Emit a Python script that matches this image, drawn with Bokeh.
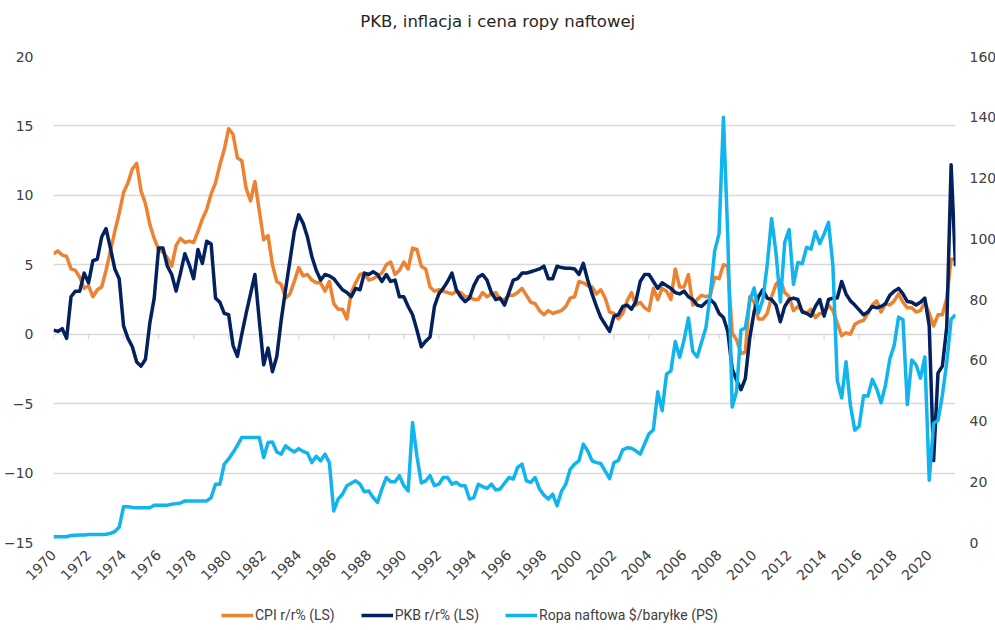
from math import pi, nan
from bokeh.plotting import figure
from bokeh.layouts import column
from bokeh.models import Range1d, LinearAxis, FixedTicker, Legend, LegendItem
from bokeh.core.properties import value
from bokeh.embed import file_html
from bokeh.resources import INLINE

# ---- data (quarterly, 1970Q1 .. 2021Q3) ----
cpi = [
    5.8, 6.0, 5.7, 5.6,   4.7, 4.6, 4.1, 3.3,   3.5, 2.7, 3.2, 3.4,   4.6, 6.0, 7.4, 8.7,
    10.2, 10.9, 11.9, 12.3,  10.3, 9.4, 7.9, 6.9,  6.1, 5.9, 5.5, 4.9,  6.4, 6.9, 6.6, 6.7,
    6.6, 7.4, 8.3, 9.0,   10.1, 10.9, 12.2, 13.3,  14.8, 14.4, 12.7, 12.5,  10.5, 9.6, 11.0, 8.9,
    6.8, 7.1, 5.0, 3.8,   3.6, 2.6, 2.9, 3.8,   4.8, 4.2, 4.3, 3.9,   3.7, 3.7, 3.1, 3.8,
    2.2, 1.8, 1.8, 1.1,   3.0, 3.7, 4.3, 4.4,   3.9, 4.0, 4.2, 4.4,   5.0, 5.2, 4.3, 4.6,
    5.2, 4.7, 6.2, 6.1,   4.9, 4.7, 3.4, 3.1,   3.2, 3.1, 3.0, 2.9,   3.1, 3.0, 2.7, 2.7,
    2.5, 2.5, 3.0, 2.7,   2.9, 3.0, 2.5, 2.5,   2.8, 2.8, 3.0, 3.3,   2.8, 2.3, 2.2, 1.7,
    1.4, 1.7, 1.5, 1.6,   1.7, 2.0, 2.6, 2.7,   3.8, 3.7, 3.5, 3.4,   2.9, 3.2, 2.6, 1.6,
    1.5, 1.1, 1.5, 2.4,   3.0, 2.1, 2.3, 1.9,   1.7, 3.3, 2.5, 3.3,   3.1, 2.5, 4.7, 3.4,
    3.4, 4.3, 2.1, 2.5,   2.8, 2.7, 2.8, 4.1,   4.0, 5.0, 4.9, 0.1,   -0.4, -1.4, -1.3, 2.7,
    2.3, 1.1, 1.1, 1.5,   2.7, 3.6, 3.9, 3.0,   2.7, 1.7, 2.0, 1.7,   1.5, 1.8, 1.2, 1.5,
    1.5, 2.1, 1.7, 0.8,   -0.1, 0.1, 0.0, 0.7,  0.9, 1.0, 1.5, 2.1,   2.4, 1.6, 2.2, 2.1,
    2.4, 2.9, 2.3, 1.9,   1.9, 1.6, 1.7, 2.3,   1.5, 0.6, 1.4, 1.4,   2.6, 5.4, 5.4,
]

pkb = [
    0.3, 0.2, 0.4, -0.3,  2.7, 3.1, 3.1, 4.4,   3.7, 5.3, 5.4, 7.0,   7.6, 6.2, 4.7, 4.0,
    0.6, -0.3, -0.9, -2.0,  -2.3, -1.8, 0.8, 2.6,  6.2, 6.2, 4.9, 4.3,  3.1, 4.4, 5.8, 5.0,
    4.0, 6.1, 5.1, 6.7,   6.5, 2.6, 2.3, 1.5,   1.4, -0.8, -1.6, 0.0,  1.5, 2.9, 4.3, 1.0,
    -2.2, -1.0, -2.7, -1.6,  1.0, 3.2, 5.3, 7.4,  8.6, 8.0, 7.0, 5.6,  4.6, 3.9, 4.3, 4.2,
    4.0, 3.6, 3.2, 3.0,   2.7, 3.3, 3.2, 4.4,   4.3, 4.5, 4.3, 3.8,   4.3, 3.8, 3.9, 2.7,
    2.7, 2.0, 1.4, 0.3,   -0.9, -0.5, -0.2, 2.0,  2.9, 3.3, 3.8, 4.4,  3.2, 2.7, 2.35, 2.6,
    3.5, 4.1, 4.3, 3.9,   3.0, 2.5, 2.6, 2.1,   3.0, 3.9, 4.0, 4.4,   4.4, 4.5, 4.6, 4.7,
    4.9, 4.0, 4.0, 4.9,   4.8, 4.75, 4.75, 4.7,  4.3, 5.1, 3.9, 2.9,  2.0, 1.2, 0.7, 0.2,
    1.3, 1.4, 2.0, 2.1,   1.8, 2.35, 3.8, 4.3,  4.3, 3.8, 3.3, 3.7,   3.5, 3.3, 3.0, 2.9,
    3.1, 2.7, 2.5, 2.1,   2.0, 2.3, 2.5, 2.2,   1.5, 1.2, 0.2, -2.5,  -3.3, -4.0, -3.2, -0.3,
    1.6, 2.7, 3.2, 2.6,   2.5, 2.1, 0.9, 2.0,   2.5, 2.6, 2.5, 1.6,   1.5, 1.3, 2.0, 2.5,
    1.3, 2.5, 2.6, 2.6,   3.8, 2.9, 2.4, 2.1,   1.75, 1.4, 1.6, 2.0,  1.9, 2.0, 2.2, 2.8,
    3.1, 3.3, 2.9, 2.35,  2.3, 2.1, 2.3, 2.6,   0.6, -9.1, -2.8, -2.3,  0.5, 12.2, 4.9,
]

ropa = [
    1.9, 1.9, 1.9, 1.9,   2.3, 2.4, 2.5, 2.5,   2.6, 2.6, 2.6, 2.6,   2.7, 3.0, 3.6, 5.0,
    11.8, 11.8, 11.5, 11.4,  11.4, 11.4, 11.4, 12.3,  12.3, 12.3, 12.3, 12.6,  12.8, 13.0, 13.7, 13.7,
    13.7, 13.7, 13.7, 13.7,  14.8, 19.2, 19.2, 25.8,  27.5, 29.6, 32.0, 34.6,  34.6, 34.6, 34.6, 34.6,
    28.0, 32.9, 33.1, 29.8,  29.1, 31.8, 30.7, 29.8,  30.9, 30.0, 29.4, 26.3,  28.4, 26.9, 29.1, 26.3,
    10.4, 14.3, 15.9, 18.7,  19.5, 20.3, 19.2, 16.7,  17.0, 14.8, 13.2, 17.6,  21.4, 20.0, 20.0, 22.0,
    18.7, 17.0, 39.5, 28.4,  19.6, 20.3, 22.0, 18.7,  19.2, 21.4, 21.4, 19.2,  19.8, 18.7, 18.7, 14.3,
    14.8, 19.2, 18.4, 17.8,  19.2, 17.3, 17.6, 19.5,  21.4, 20.9, 24.7, 25.8,  20.3, 19.8, 21.4, 17.6,
    15.6, 14.3, 15.9, 12.1,  16.8, 19.2, 24.1, 25.8,  26.9, 32.4, 30.2, 26.9,  26.3, 26.0, 23.5, 21.0,
    26.3, 27.0, 30.5, 31.2,  31.0, 30.2, 29.1, 32.5,  35.8, 37.1, 49.6, 43.4,  55.4, 56.5, 66.2, 61.0,
    66.6, 73.9, 62.9, 61.1,  65.9, 70.7, 81.7, 96.0,  101.6, 140.0, 100.6, 44.6,  49.7, 69.9, 70.6, 79.4,
    83.8, 75.6, 80.0, 91.4,  106.7, 95.4, 79.2, 98.8,  103.0, 85.0, 92.2, 91.8,  97.2, 96.6, 102.3, 98.4,
    101.6, 105.4, 91.2, 53.3,  47.6, 59.5, 45.1, 37.0,  38.3, 48.3, 48.2, 53.7,  50.6, 46.0, 51.7, 60.4,
    64.9, 74.2, 73.3, 45.4,  60.1, 58.5, 54.1, 61.1,  20.5, 39.3, 40.2, 48.5,  59.2, 73.5, 75.0,
]

first_year = 1970
dates = [first_year + i / 4 for i in range(len(cpi))]
year_ticks = list(range(1970, 2021, 2))
left_ticks = [-15, -10, -5, 0, 5, 10, 15, 20]
right_ticks = [0, 20, 40, 60, 80, 100, 120, 140, 160]

title = "PKB, inflacja i cena ropy naftowej"
labels = ["CPI r/r% (LS)", "PKB r/r% (LS)", "Ropa naftowa $/baryłke (PS)"]

ORANGE = "#EE8233"
NAVY = "#03215F"
BLUE = "#12B4EE"
COLORS = [ORANGE, NAVY, BLUE]
GRID = "#D9D9D9"
TXT = "#404040"
FONT = "DejaVu Sans"
W = 979


def strip(height):
    f = figure(width=W, height=height, output_backend="svg", toolbar_location=None,
               x_range=Range1d(0, 1), y_range=Range1d(0, 1),
               min_border=0, min_border_left=0, min_border_right=0,
               min_border_top=0, min_border_bottom=0)
    f.axis.visible = False
    f.grid.visible = False
    f.outline_line_color = None
    return f


# ---- title strip ----
tf = strip(30)
tf.text(x=[0.5036], y=[0.3], text=[title], text_align="center",
        text_baseline="middle", text_font=value(FONT), text_font_size="16.5px",
        text_color="#262626")

# ---- main chart ----
p = figure(frame_width=902, frame_height=486, output_backend="svg",
           toolbar_location=None,
           x_range=Range1d(1970, 2021.5), y_range=Range1d(-15, 20),
           min_border_left=41, min_border_right=36, min_border_top=26,
           min_border_bottom=52)
p.extra_y_ranges = {"oil": Range1d(0, 160)}
p.outline_line_color = None
p.background_fill_color = "white"

p.xgrid.grid_line_color = None
p.ygrid.ticker = FixedTicker(ticks=left_ticks)
p.ygrid.grid_line_color = GRID
p.ygrid.grid_line_width = 1.3

yax = p.yaxis[0]
yax.ticker = FixedTicker(ticks=left_ticks)
yax.axis_line_color = None
yax.major_tick_line_color = None
yax.minor_tick_line_color = None
yax.major_label_standoff = 14
yax.major_label_text_font = FONT
yax.major_label_text_font_size = "14px"
yax.major_label_text_color = TXT

rax = LinearAxis(y_range_name="oil", ticker=FixedTicker(ticks=right_ticks))
rax.axis_line_color = None
rax.major_tick_line_color = None
rax.minor_tick_line_color = None
rax.major_label_standoff = 8
rax.major_label_text_font = FONT
rax.major_label_text_font_size = "14px"
rax.major_label_text_color = TXT
p.add_layout(rax, "right")

xax = p.xaxis[0]
xax.ticker = FixedTicker(ticks=year_ticks)
xax.major_label_overrides = {y: str(y) for y in year_ticks}
xax.axis_line_color = None
xax.major_tick_line_color = None
xax.minor_tick_line_color = None
xax.major_tick_in = 0
xax.major_tick_out = 0
xax.major_label_orientation = pi / 4
xax.major_label_standoff = 10
xax.major_label_text_font = FONT
xax.major_label_text_font_size = "14px"
xax.major_label_text_color = TXT

# small category tick marks hanging from the zero line (~5 px long)
tick_drop = 5 * 35 / 486
p.segment(x0=year_ticks, y0=[0] * len(year_ticks), x1=year_ticks,
          y1=[-tick_drop] * len(year_ticks), line_color=GRID, line_width=1.3)

p.line(dates, cpi, line_color=ORANGE, line_width=3.5, line_join="round")
p.line(dates, pkb, line_color=NAVY, line_width=3.5, line_join="round")
p.line(dates, ropa, line_color=BLUE, line_width=3.5, line_join="round",
       y_range_name="oil")

# ---- legend strip ----
lf = strip(29)
items = []
for lab, col in zip(labels, COLORS):
    r = lf.line(x=[nan], y=[nan], line_color=col, line_width=3.5)
    items.append(LegendItem(label=lab, renderers=[r]))
legend = Legend(items=items, orientation="horizontal", location=(168, 0))
legend.border_line_color = None
legend.background_fill_alpha = 0
legend.label_text_font = "Roboto"
legend.label_text_font_size = "14px"
legend.label_text_color = TXT
legend.label_height = 14
legend.glyph_width = 32
legend.glyph_height = 12
legend.label_standoff = 2
legend.spacing = 26
legend.padding = 0
legend.margin = 0
lf.add_layout(legend)

open("out.html", "w").write(file_html(column(tf, p, lf), INLINE))
